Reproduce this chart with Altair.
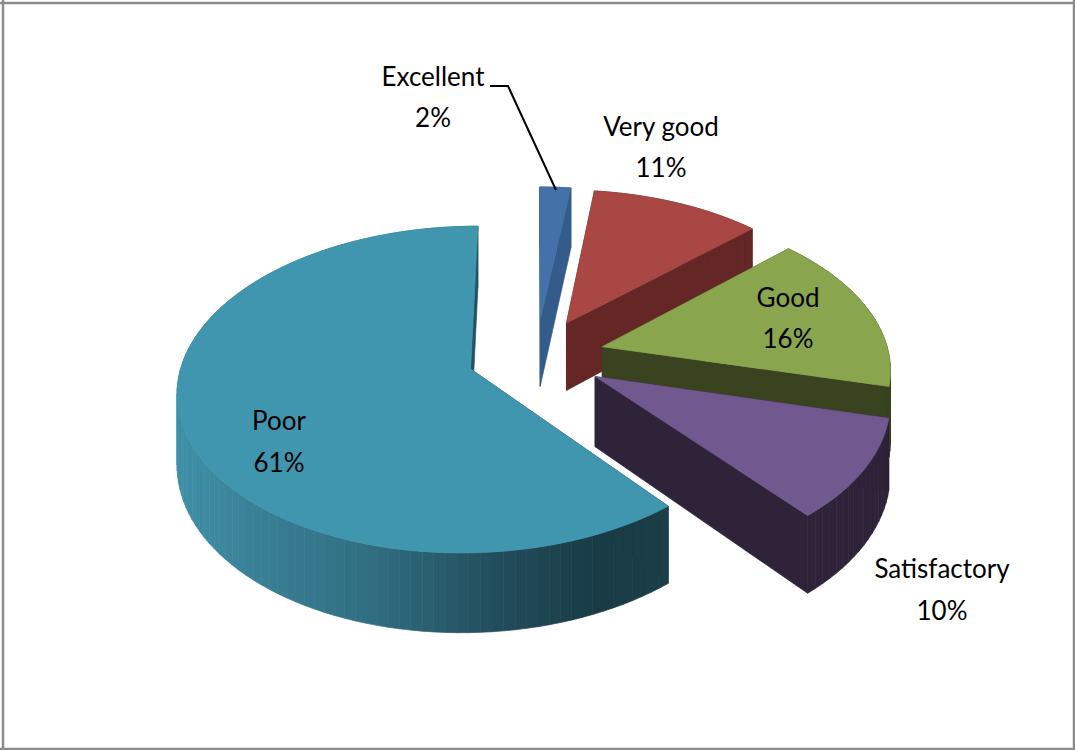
import math
import altair as alt
import pandas as pd

# Survey result shares, clockwise from twelve o'clock
categories = ["Excellent", "Very good", "Good", "Satisfactory", "Poor"]
shares = [2, 11, 16, 10, 61]

# Face colours per slice
top_colors = ["#4472a8", "#a84744", "#89a54e", "#71588f", "#4096ae"]
wall_colors = ["#345c8a", "#642725", "#3a431f", "#2e2339", None]

# Horizontal shading of the large slice's curved wall
wall_stops = [(178, "#3f90a7"), (250, "#3a8197"), (380, "#2f6c7e"),
              (500, "#224c5b"), (600, "#183b46"), (667, "#1b3e49")]

# Perspective model of the exploded pie
CX, CY = 536.0, 356.0
RX, RY = 287.0, 157.5
DEPTH = 69.0
PERSP = 0.125
EXPLODE = 0.24

WIDTH, HEIGHT = 1075, 750


def project(u, v, down=0.0):
    w = 1 + PERSP * v
    return [CX + RX * u / w, CY - RY * v / w + DEPTH * down / w]


def mix(c1, c2, t):
    a = [int(c1[i:i + 2], 16) for i in (1, 3, 5)]
    b = [int(c2[i:i + 2], 16) for i in (1, 3, 5)]
    return "#" + "".join(f"{round(p + (q - p) * t):02x}" for p, q in zip(a, b))


def shade(x):
    if x <= wall_stops[0][0]:
        return wall_stops[0][1]
    for (x0, c0), (x1, c1) in zip(wall_stops, wall_stops[1:]):
        if x <= x1:
            return mix(c0, c1, (x - x0) / (x1 - x0))
    return wall_stops[-1][1]


def polygon(points, fill):
    ring = points + [points[0]]
    return {
        "type": "Feature",
        "properties": {"fill": fill},
        "geometry": {"type": "Polygon", "coordinates": [ring]},
    }


def slice_faces(start, end, top, wall):
    mid = math.radians((start + end) / 2)
    u0, v0 = EXPLODE * math.sin(mid), EXPLODE * math.cos(mid)
    steps = max(4, int((end - start) / 2))
    rim = []
    for i in range(steps + 1):
        a = math.radians(start + (end - start) * i / steps)
        rim.append((u0 + math.sin(a), v0 + math.cos(a)))

    faces = []
    # radial walls
    for u, v in (rim[0], rim[-1]):
        fill = wall or shade(project(u, v)[0])
        faces.append(polygon([project(u0, v0), project(u, v),
                              project(u, v, 1), project(u0, v0, 1)], fill))
    # curved wall, one facet per step
    for (u1, v1), (u2, v2) in zip(rim, rim[1:]):
        p = project(u1, v1)
        q = project(u2, v2)
        fill = wall or shade((p[0] + q[0]) / 2)
        faces.append(polygon([p, q, project(u2, v2, 1), project(u1, v1, 1)], fill))
    # top face
    faces.append(polygon([project(u0, v0)] + [project(u, v) for u, v in rim], top))
    return faces


features = []
angle = 0.0
for share, top, wall in zip(shares, top_colors, wall_colors):
    sweep = share / sum(shares) * 360
    features += slice_faces(angle, angle + sweep, top, wall)
    angle += sweep

pie = alt.Chart(alt.Data(values=features)).mark_geoshape(strokeWidth=0.7).encode(
    color=alt.Color("properties.fill:N", scale=None),
    stroke=alt.Stroke("properties.fill:N", scale=None),
).project(type="identity", scale=1, translate=[0, 0])

# Label placement per category: centre x, first line y, second line y
label_x = [433, 661, 788, 942, 279]
label_y1 = [78, 128, 299, 570, 422]
label_y2 = [119, 169, 340, 612, 464]

rows = []
for name, share, x, y1, y2 in zip(categories, shares, label_x, label_y1, label_y2):
    rows.append({"x": x, "y": y1, "t": name})
    rows.append({"x": x, "y": y2, "t": f"{share}%"})

labels = alt.Chart(pd.DataFrame(rows)).mark_text(
    font="Lato", fontSize=26, color="#000000", align="center", baseline="middle"
).encode(
    x=alt.X("x:Q", scale=None),
    y=alt.Y("y:Q", scale=None),
    text="t:N",
)

# Leader line from the Excellent label to its slice
leader_x = [490, 508, 556]
leader_y = [86, 86, 190]
leader = alt.Chart(pd.DataFrame({"x": leader_x, "y": leader_y, "o": [0, 1, 2]})).mark_line(
    color="#000000", strokeWidth=2
).encode(
    x=alt.X("x:Q", scale=None),
    y=alt.Y("y:Q", scale=None),
    order="o:Q",
)

# Outer frame of the chart area
frame_df = pd.DataFrame({
    "x": [0, 3, 1074, 0],
    "x2": [1075, 3, 1074, 1075],
    "y": [3, 0, 0, 749],
    "y2": [3, 750, 750, 749],
})
frame = alt.Chart(frame_df).mark_rule(color="#8c8c8c", strokeWidth=2.5).encode(
    x=alt.X("x:Q", scale=None),
    x2="x2:Q",
    y=alt.Y("y:Q", scale=None),
    y2="y2:Q",
)

chart = alt.layer(frame, pie, leader, labels).properties(
    width=WIDTH, height=HEIGHT, padding=0, background="#ffffff",
    autosize=alt.AutoSizeParams(type="none"),
).configure_view(stroke=None)

chart.save("out.html", embed_options={"renderer": "svg", "actions": False})
